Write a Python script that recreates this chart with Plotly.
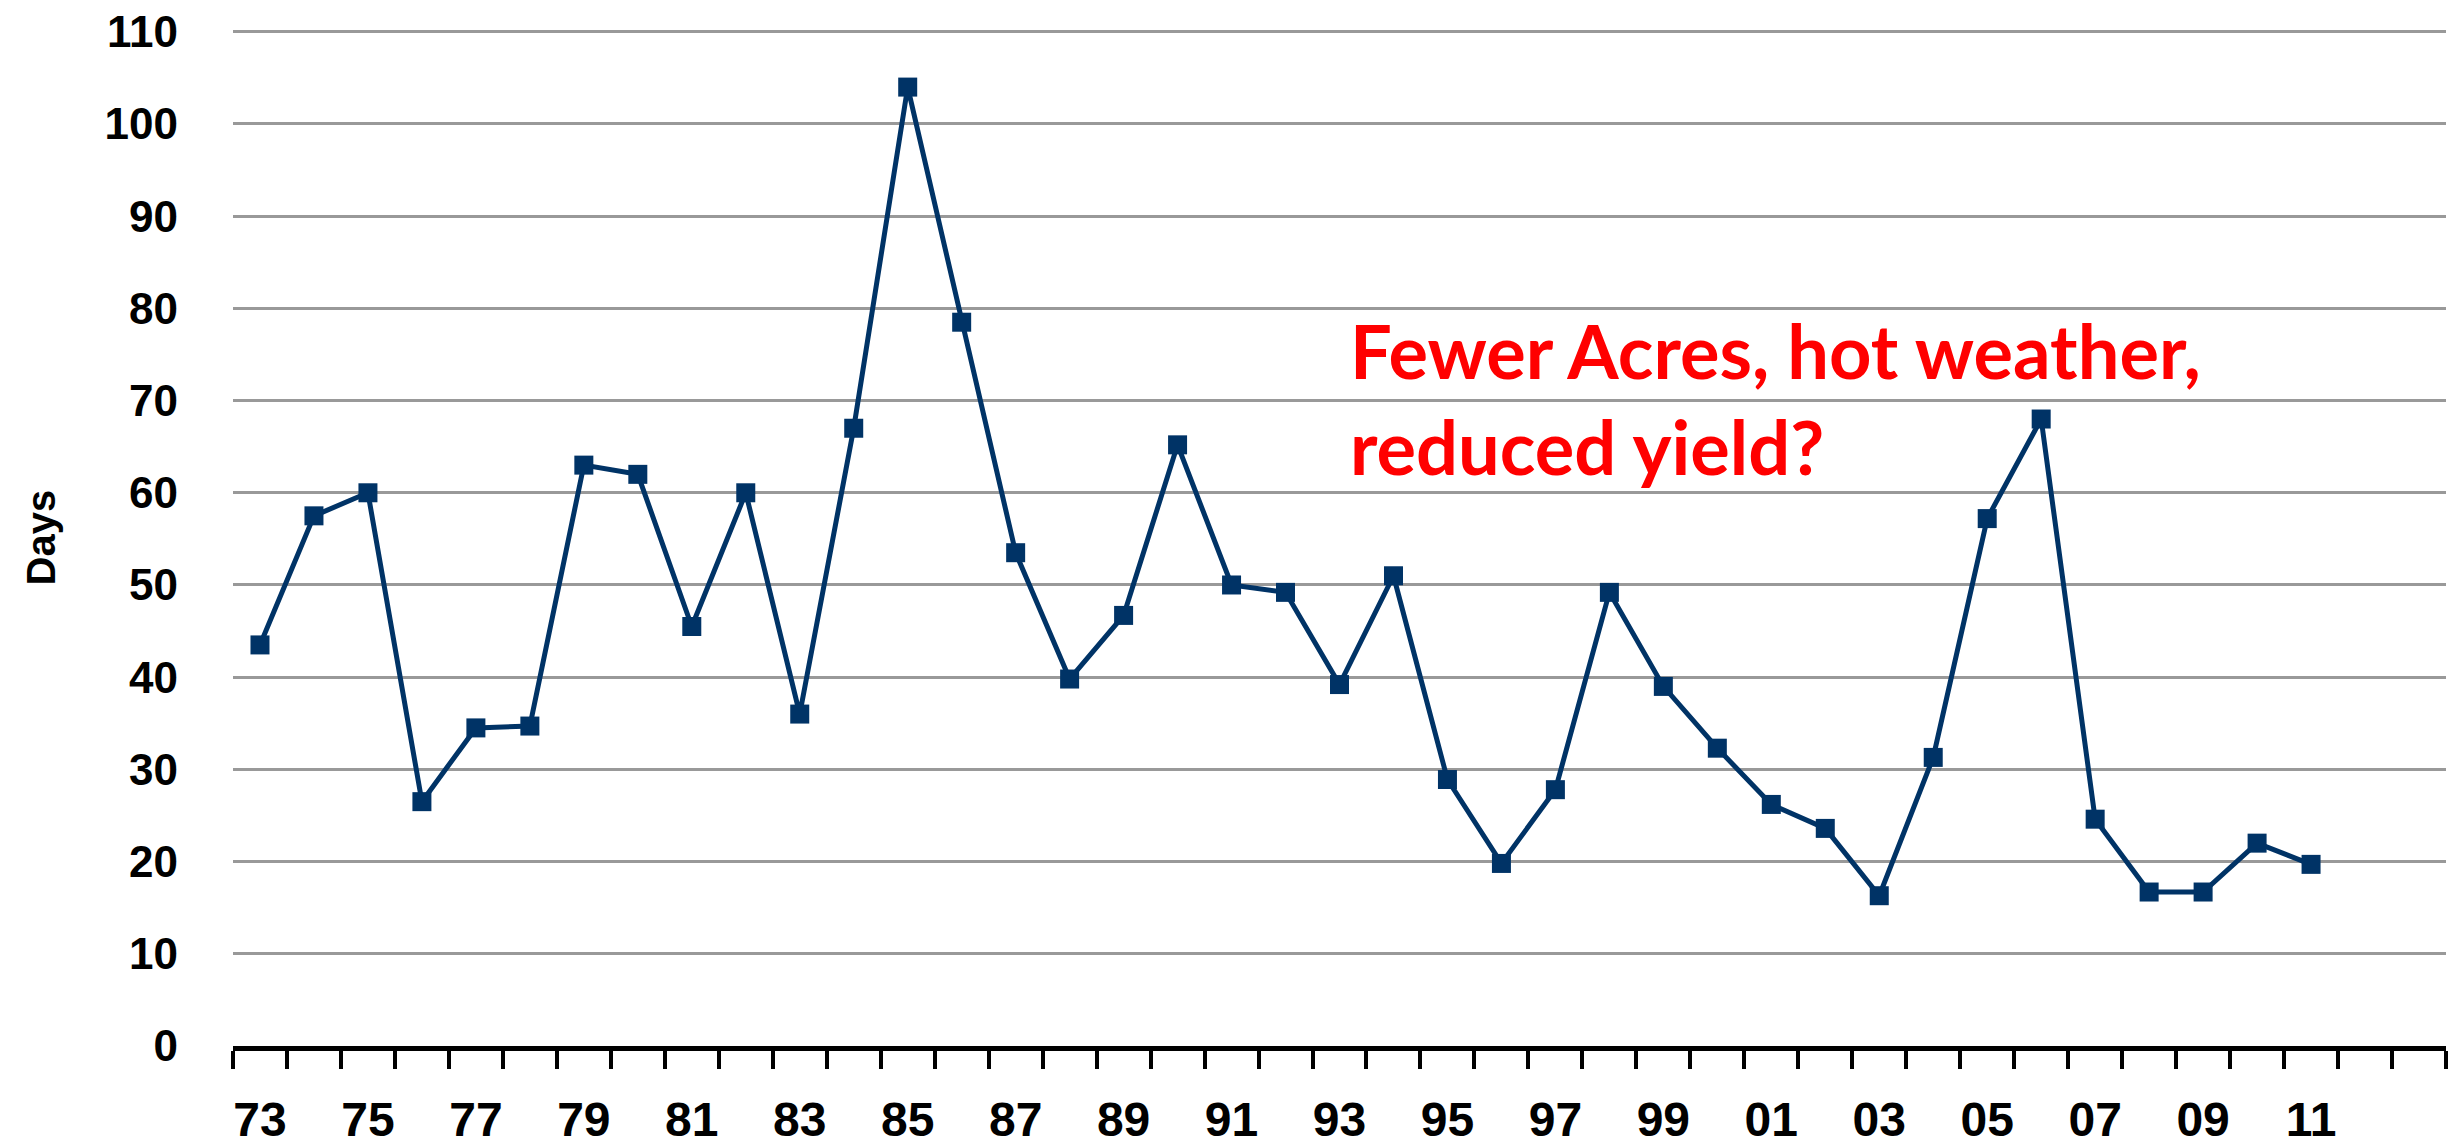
import plotly.graph_objects as go

# harvest days by crop year (1973-2011)
years = list(range(1973, 2012))
days = [43.5, 57.5, 60, 26.5, 34.5, 34.7, 63, 62, 45.5, 60,
        36, 67, 104, 78.5, 53.5, 39.8, 46.7, 65.2, 50, 49.2,
        39.2, 51, 28.9, 19.8, 27.8, 49.2, 39, 32.3, 26.2, 23.6,
        16.3, 31.3, 57.2, 68, 24.6, 16.7, 16.7, 22, 19.7]

tick_years = list(range(1973, 2012, 2))
tick_labels = [str(y)[2:] for y in tick_years]
y_ticks = list(range(0, 111, 10))

note_lines = ["Fewer Acres, hot weather,", "reduced yield?"]

navy = "#003366"
y_font = dict(family="Liberation Sans, Arial", size=44, color="black", weight="bold")
x_font = dict(family="Liberation Sans, Arial", size=48, color="black", weight="bold")
note_font = dict(family="Lato, Open Sans", size=74, color="#ff0000", weight="bold")

fig = go.Figure()
fig.add_trace(go.Scatter(
    x=years, y=days, mode="lines+markers",
    line=dict(color=navy, width=5),
    marker=dict(symbol="square", size=19, color=navy),
    showlegend=False, hoverinfo="x+y"))

fig.update_xaxes(
    range=[1972.5, 2013.5], automargin=False,
    tickvals=tick_years, ticktext=tick_labels,
    ticks="", ticklabelstandoff=27, tickfont=x_font,
    ticklabeloverflow="allow",
    showgrid=False, zeroline=False,
    showline=True, linecolor="black", linewidth=5,
    minor=dict(tick0=1972.5, dtick=1, ticks="outside", ticklen=18,
               tickwidth=4, tickcolor="black", showgrid=False))

# small headroom above 110 so the top gridline is drawn inside the plot
fig.update_yaxes(
    range=[0, 110.3], tickvals=y_ticks, automargin=False,
    ticks="", ticklabelstandoff=54, tickfont=y_font,
    ticklabeloverflow="allow",
    showgrid=True, gridcolor="#999999", gridwidth=3,
    zeroline=False, showline=False)

fig.add_annotation(x=1993.15, y=75.4, xref="x", yref="y", text=note_lines[0],
                   showarrow=False, xanchor="left", yanchor="middle", font=note_font)
fig.add_annotation(x=1993.15, y=65, xref="x", yref="y", text=note_lines[1],
                   showarrow=False, xanchor="left", yanchor="middle", font=note_font)

fig.add_annotation(x=-0.0868, y=0.5, xref="paper", yref="paper", text="Days",
                   showarrow=False, textangle=-90, xanchor="center", yanchor="middle",
                   font=dict(family="Liberation Sans Narrow, Liberation Sans", size=40,
                             color="black", weight="bold"))

# page body adds ~8px offset, so figure is sized to fit the window
fig.update_layout(
    width=2450, height=1138,
    margin=dict(l=225, r=12, t=21, b=100),
    plot_bgcolor="white", paper_bgcolor="white")

fig.write_html("out.html")
